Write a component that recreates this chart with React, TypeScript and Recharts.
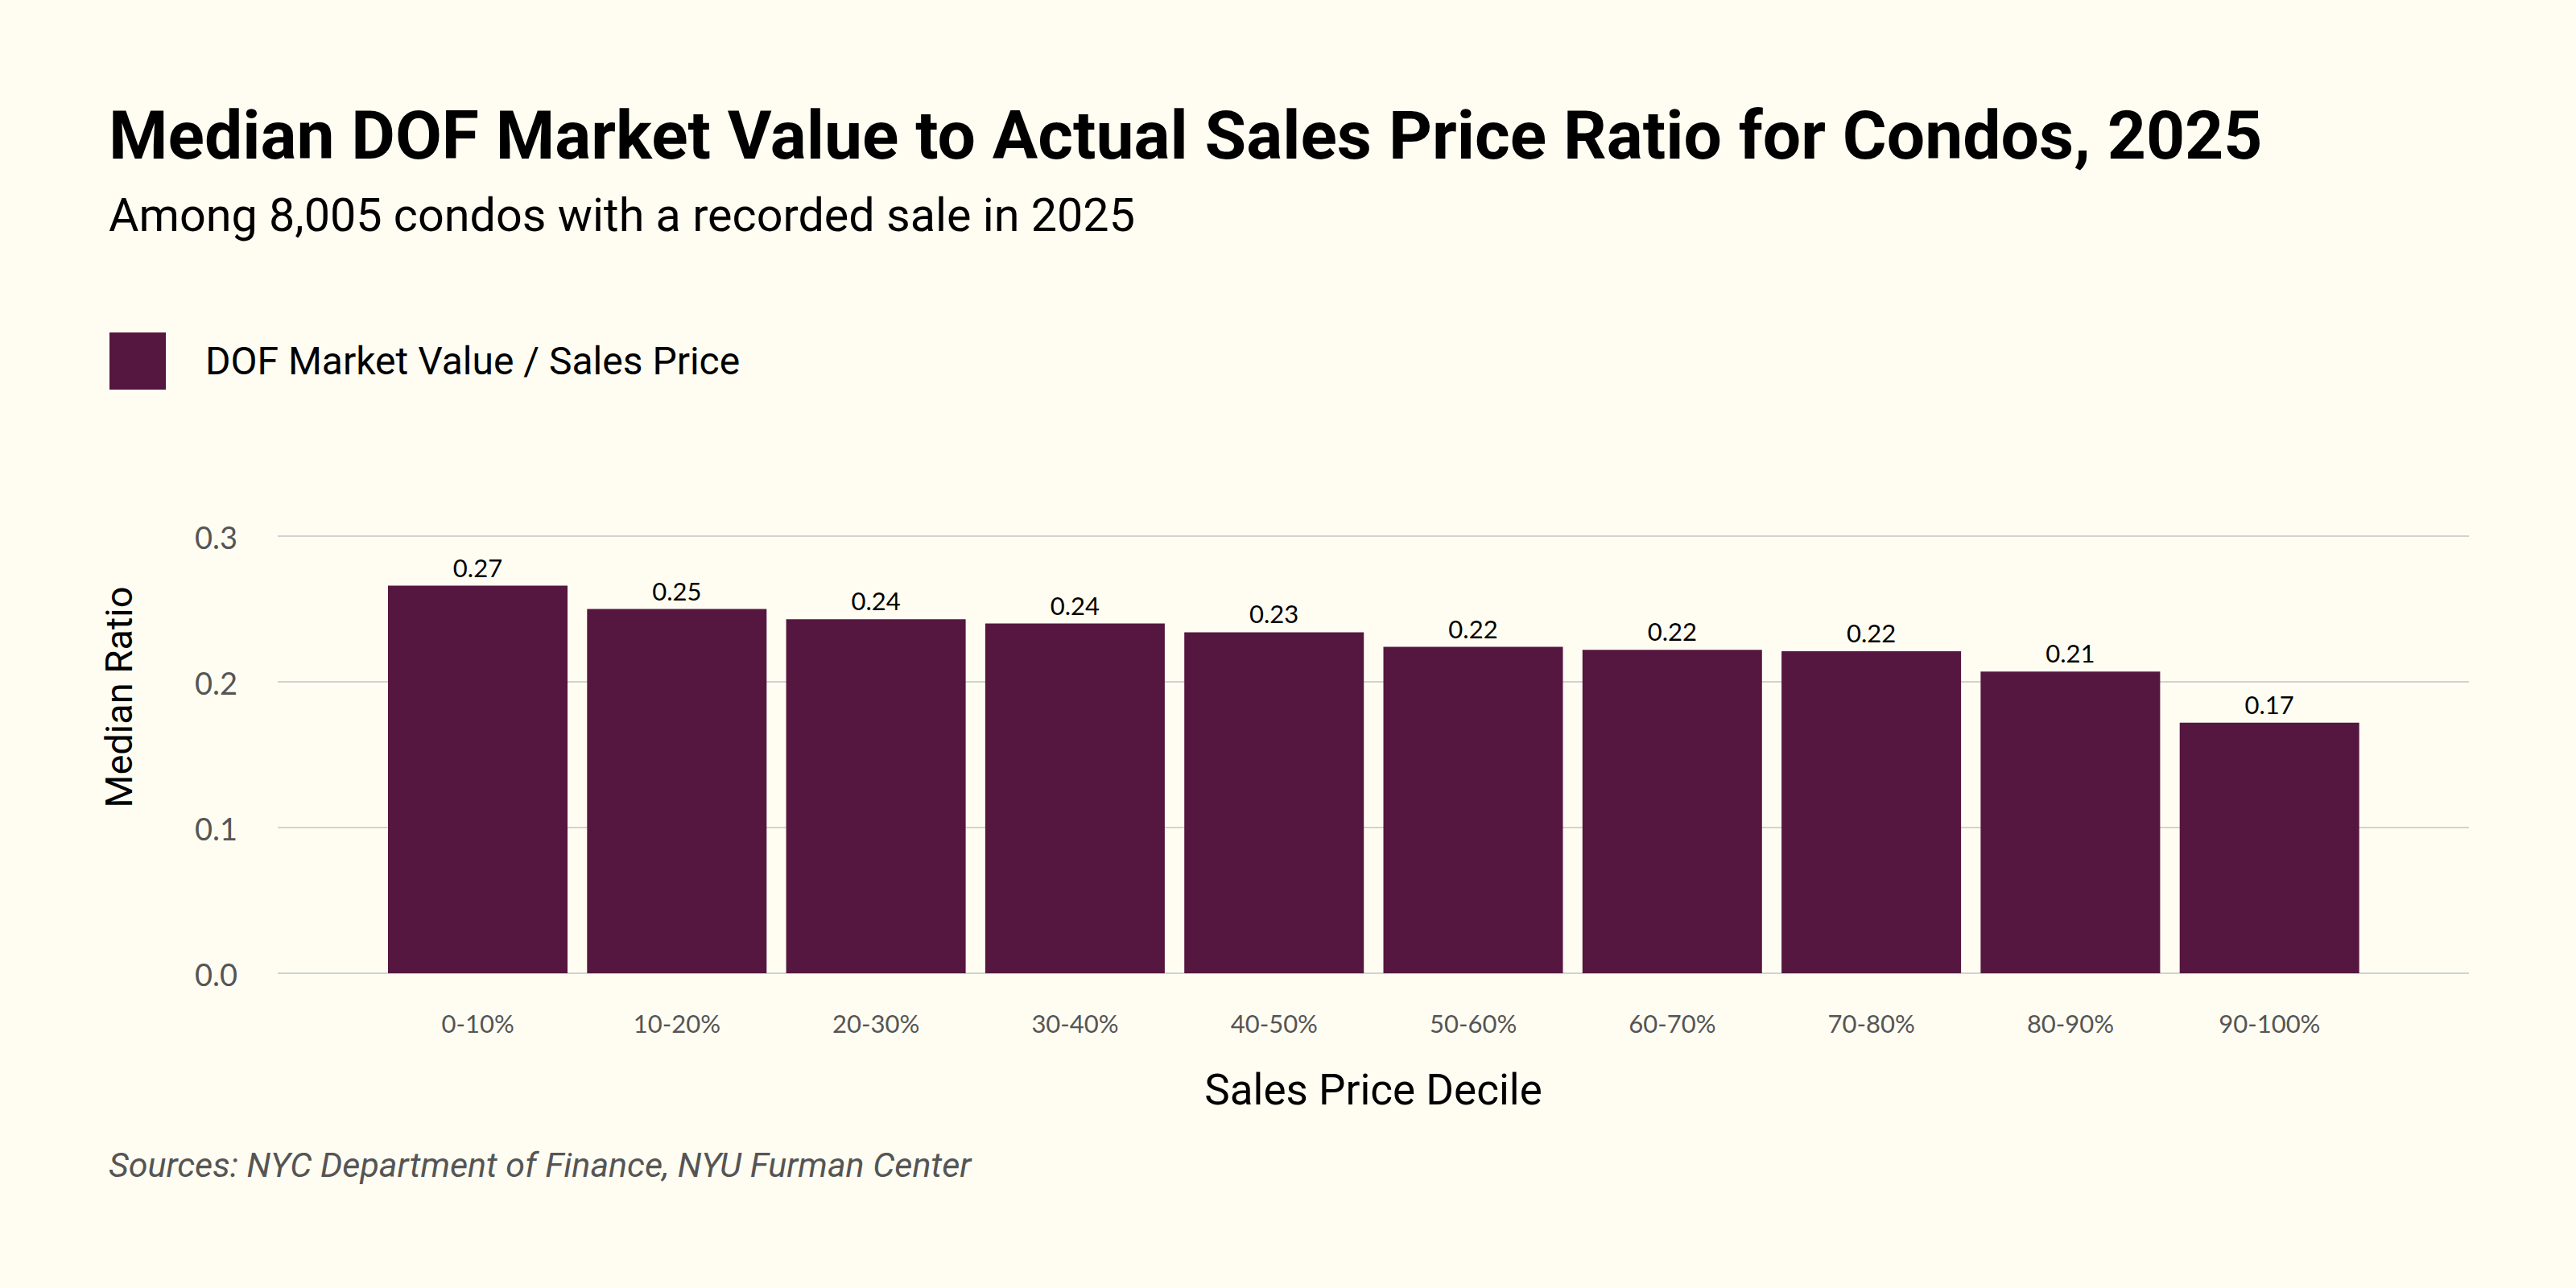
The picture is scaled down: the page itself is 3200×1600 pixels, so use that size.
import React from 'react';
import { BarChart, Bar, XAxis, YAxis, CartesianGrid, Legend, LabelList, Label } from 'recharts';

// sales price deciles and median DOF market value / sales price ratio
const deciles = ['0-10%', '10-20%', '20-30%', '30-40%', '40-50%', '50-60%', '60-70%', '70-80%', '80-90%', '90-100%'];
const ratios = [0.266, 0.25, 0.243, 0.24, 0.234, 0.224, 0.222, 0.221, 0.207, 0.172];
const yTicks = [0, 0.1, 0.2, 0.3];

const data = deciles.map((decile, i) => ({ decile, ratio: ratios[i] }));

const BG = '#fffdf2';
const BAR = '#55163f';
const GRID = '#d2d2d2';
const MUTED = '#555555';
const HEAD_FONT = 'Roboto, sans-serif';
const TICK_FONT = 'Lato, sans-serif';

const renderLegend = (props: any) => {
  const { payload } = props;
  return (
    <div style={{ display: 'flex', alignItems: 'center' }}>
      {payload.map((entry: any) => (
        <div key={entry.value} style={{ display: 'flex', alignItems: 'center' }}>
          <span style={{ display: 'inline-block', width: 70, height: 71, background: entry.color }} />
          <span style={{ marginLeft: 49, fontSize: 48, fontFamily: HEAD_FONT, color: '#000', lineHeight: 1 }}>{entry.value}</span>
        </div>
      ))}
    </div>
  );
};

export default function App() {
  return (
    <div style={{ position: 'absolute', left: 0, top: 0, width: 3200, height: 1600, background: BG, overflow: 'hidden' }}>
      <BarChart
        width={3200}
        height={1600}
        data={data}
        barCategoryGap={12}
        margin={{ top: 666, right: 133, bottom: 291, left: 145 }}
      >
        <CartesianGrid vertical={false} stroke={GRID} strokeWidth={2} />
        <XAxis
          dataKey="decile"
          axisLine={false}
          tickLine={false}
          tickSize={0}
          tickMargin={52}
          height={100}
          interval={0}
          padding={{ left: 125, right: 124 }}
          tick={{ fontSize: 31, fill: MUTED, fontFamily: TICK_FONT }}
        >
          <Label
            content={() => (
              <text x={1706} y={1372} textAnchor="middle" fontSize={53} fontFamily={HEAD_FONT} fill="#000">
                Sales Price Decile
              </text>
            )}
          />
        </XAxis>
        <YAxis
          type="number"
          domain={[0, 0.3]}
          ticks={yTicks}
          tickFormatter={(v: number) => v.toFixed(1)}
          axisLine={false}
          tickLine={false}
          tickSize={0}
          tickMargin={50}
          width={200}
          tick={{ fontSize: 38, fill: MUTED, fontFamily: TICK_FONT, dy: 3 }}
        >
          <Label
            content={() => (
              <text
                x={164}
                y={866}
                transform="rotate(-90 164 866)"
                textAnchor="middle"
                fontSize={47}
                fontFamily={HEAD_FONT}
                fill="#000"
              >
                Median Ratio
              </text>
            )}
          />
        </YAxis>
        <Legend
          layout="horizontal"
          verticalAlign="middle"
          align="center"
          content={renderLegend}
          wrapperStyle={{ top: 413, left: 136, width: 'auto' }}
        />
        <Bar dataKey="ratio" name="DOF Market Value / Sales Price" fill={BAR} isAnimationActive={false}>
          <LabelList
            dataKey="ratio"
            position="top"
            offset={11}
            formatter={(v: any) => Number(v).toFixed(2)}
            style={{ fontSize: 31, fill: '#000', fontFamily: TICK_FONT }}
          />
        </Bar>
      </BarChart>
      <svg width={3200} height={1600} style={{ position: 'absolute', left: 0, top: 0, pointerEvents: 'none' }}>
        <text x={135} y={197} fontSize={84} fontWeight={700} fontFamily={HEAD_FONT} fill="#000">
          Median DOF Market Value to Actual Sales Price Ratio for Condos, 2025
        </text>
        <text x={135} y={287} fontSize={57.5} fontFamily={HEAD_FONT} fill="#000">
          Among 8,005 condos with a recorded sale in 2025
        </text>
        <text x={135} y={1462} fontSize={43} fontStyle="italic" fontFamily={HEAD_FONT} fill={MUTED}>
          Sources: NYC Department of Finance, NYU Furman Center
        </text>
      </svg>
    </div>
  );
}
